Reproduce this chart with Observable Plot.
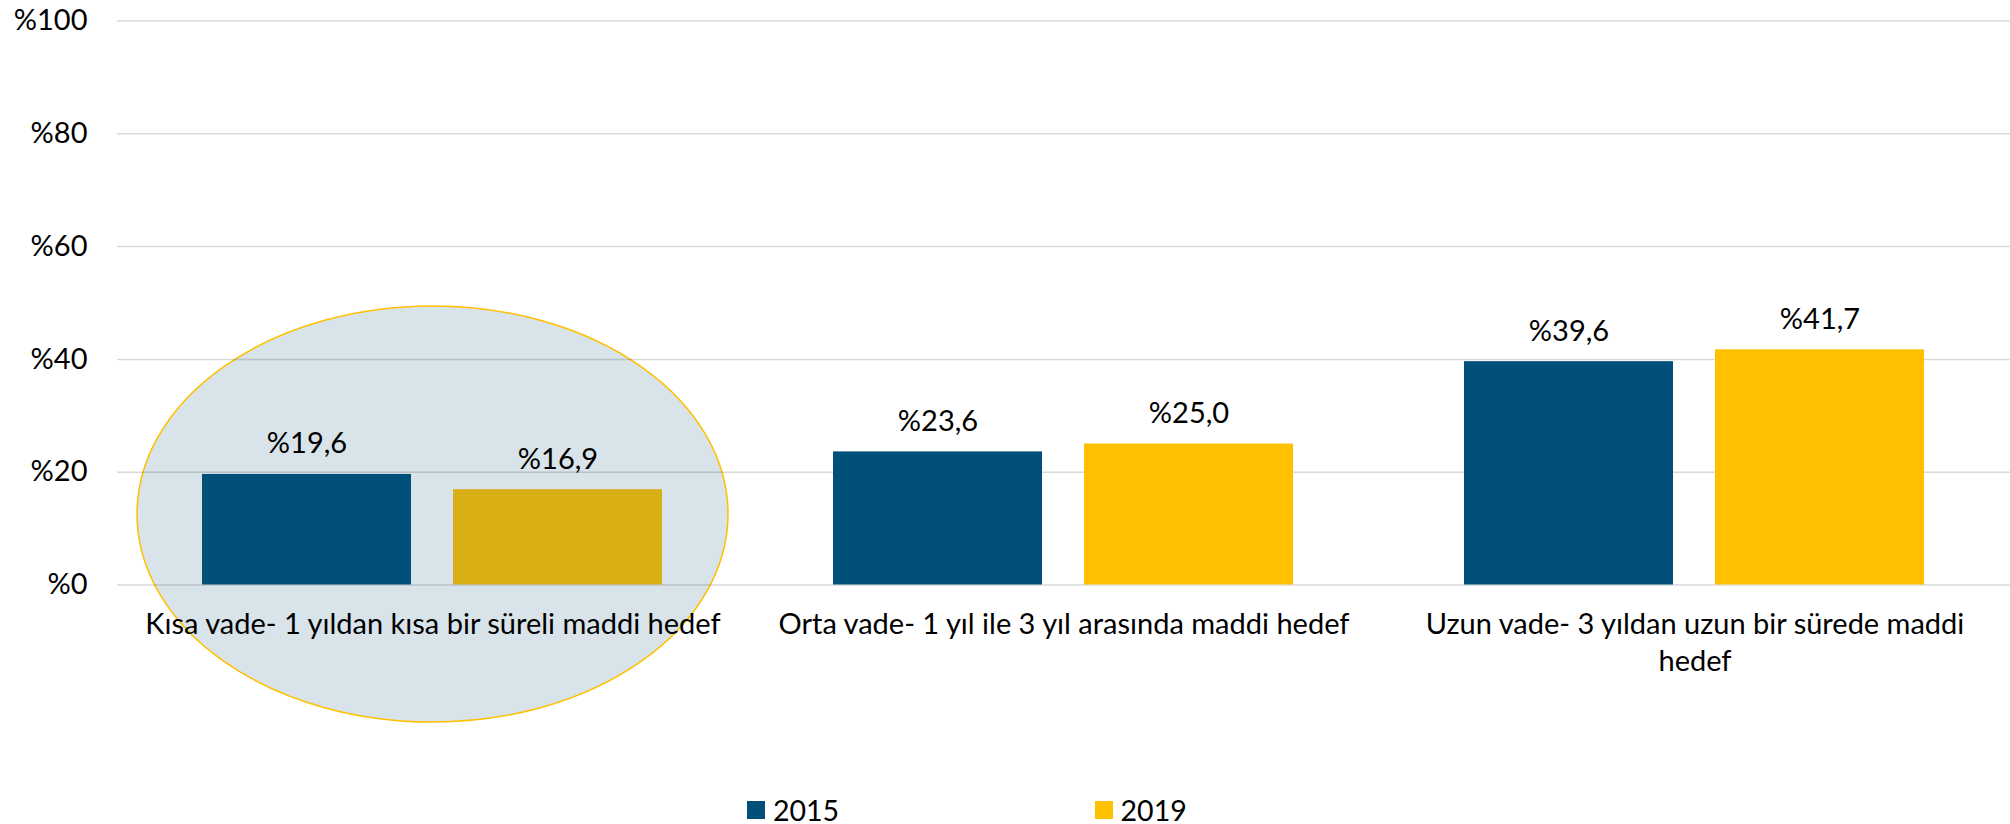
<!DOCTYPE html>
<html>
<head>
<meta charset="utf-8">
<script src="https://cdn.jsdelivr.net/npm/d3@7"></script>
<script src="https://cdn.jsdelivr.net/npm/@observablehq/plot@0.6"></script>
<style>
  html, body { margin: 0; padding: 0; background: #fff; }
  body { width: 2010px; height: 824px; overflow: hidden; font-family: Lato, "Open Sans", sans-serif; }
  #legend { position: relative; height: 34px; font-size: 28.5px; color: #000; }
  #legend .item { position: absolute; top: 11px; display: flex; align-items: center; height: 18px; line-height: 18px; }
  #legend .sw { width: 18px; height: 18px; margin-right: 8px; }
</style>
</head>
<body>
<div id="chart"></div>
<div id="legend"></div>
<script>
const categories = [
  "Kısa vade- 1 yıldan kısa bir süreli maddi hedef",
  "Orta vade- 1 yıl ile 3 yıl arasında maddi hedef",
  "Uzun vade- 3 yıldan uzun bir sürede maddi hedef"
];
const tickLabels = [
  "Kısa vade- 1 yıldan kısa bir süreli maddi hedef",
  "Orta vade- 1 yıl ile 3 yıl arasında maddi hedef",
  "Uzun vade- 3 yıldan uzun bir sürede maddi\nhedef"
];
const years = ["2015", "2019"];
const values2015 = [19.6, 23.6, 39.6];
const values2019 = [16.9, 25.0, 41.7];
const yTicks = [0, 20, 40, 60, 80, 100];
const highlighted = [categories[0]];

const yearColors = ["#01507A", "#FFC000"];
const highlightGold = "#D9AF16";

const data = categories.flatMap((c, i) => [
  {category: c, year: years[0], value: values2015[i]},
  {category: c, year: years[1], value: values2019[i]}
]);

const fmt = v => "%" + v.toFixed(1).replace(".", ",");
const barColor = d => {
  if (d.year === years[1] && highlighted.includes(d.category)) return highlightGold;
  return yearColors[years.indexOf(d.year)];
};

const FS = 29;

const chart = Plot.plot({
  width: 2010,
  height: 790,
  marginLeft: 116,
  marginRight: 0,
  marginTop: 20.5,
  marginBottom: 205.5,
  style: {fontFamily: "Lato, 'Open Sans', sans-serif", fontSize: FS + "px", color: "#000", background: "#fff", overflow: "visible"},
  fx: {domain: categories, padding: 0},
  x: {domain: years, paddingInner: 0.1667, paddingOuter: 0.338, axis: null},
  y: {domain: [0, 100]},
  marks: [
    Plot.rect(highlighted, {fx: d => d, y1: -24.4, y2: 49.4, insetLeft: 20, insetRight: 20, rx: 1000, ry: 1000,
      fill: "#D8E3EA", stroke: "#FFC000", strokeWidth: 1.5}),
    Plot.ruleY(yTicks, {stroke: "#000", strokeOpacity: 0.15, strokeWidth: 1.5}),
    Plot.barY(data, {fx: "category", x: "year", y: "value", fill: barColor, inset: 0}),
    Plot.text(data, {fx: "category", x: "year", y: "value", text: d => fmt(d.value),
      lineAnchor: "bottom", dy: -21, fontSize: FS, fill: "#000"}),
    Plot.axisY({ticks: yTicks, tickFormat: d => "%" + d, tickSize: 0, tickPadding: 30, fontSize: FS, label: null, fill: "#000"}),
    Plot.axisFx({anchor: "bottom", tickSize: 0, tickPadding: 23, fontSize: FS, lineHeight: 1.28, label: null, fill: "#000",
      tickFormat: d => tickLabels[categories.indexOf(d)]})
  ]
});
document.getElementById("chart").appendChild(chart);

const legendLefts = [747, 1094.6];
const legend = document.getElementById("legend");
years.forEach((y, i) => {
  const item = document.createElement("div");
  item.className = "item";
  item.style.left = legendLefts[i] + "px";
  const sw = document.createElement("div");
  sw.className = "sw";
  sw.style.background = yearColors[i];
  const t = document.createElement("span");
  t.textContent = y;
  item.appendChild(sw);
  item.appendChild(t);
  legend.appendChild(item);
});
</script>
</body>
</html>
